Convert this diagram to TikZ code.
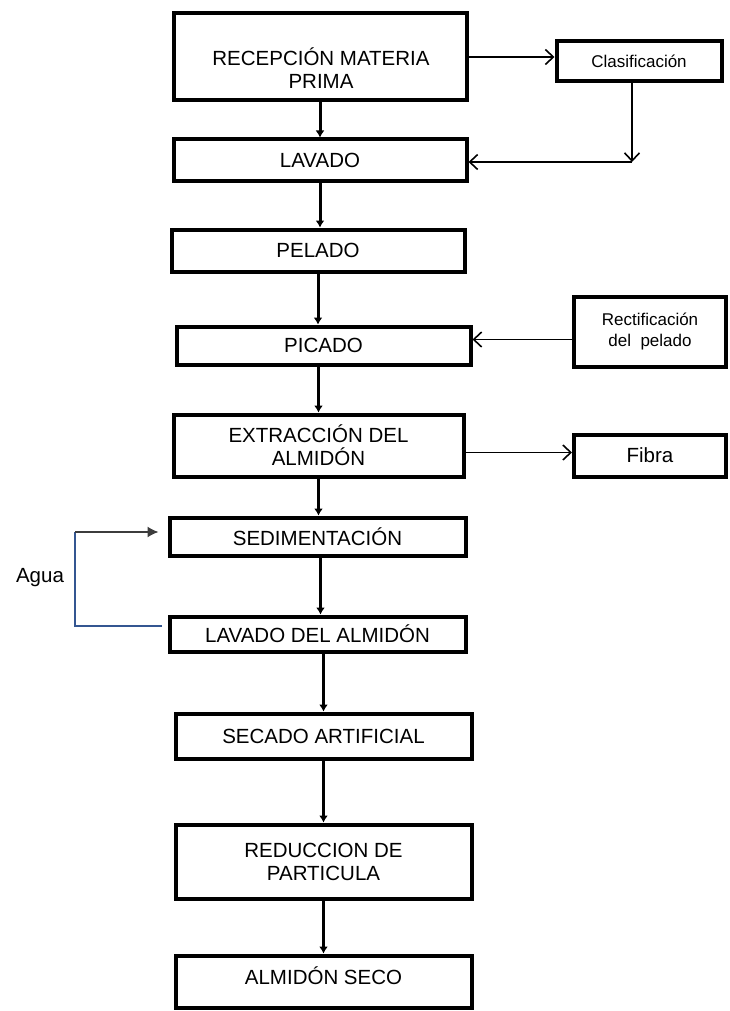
\documentclass[tikz,border=0pt]{standalone}
\usepackage{fontspec}
\setmainfont{Liberation Sans}
\usetikzlibrary{arrows.meta}
\definecolor{aguablue}{RGB}{52,86,145}
\definecolor{aguagray}{RGB}{60,60,60}
\begin{document}
\begin{tikzpicture}[x=1pt,y=-1pt,
  box/.style={draw=black, line width=4pt, fill=white, inner sep=0pt, align=center,
    font=\fontsize{20.5}{23}\selectfont},
  smallbox/.style={box, font=\fontsize{17}{21}\selectfont},
  txt/.style={inner sep=0pt, align=center, font=\fontsize{20.5}{23}\selectfont},
  flow/.style={line width=3pt, -{Latex[length=7pt,width=9pt]}},
  side/.style={line width=1.6pt, -{Straight Barb[length=8pt,width=15pt]}},
  agualine/.style={line width=1.5pt, draw=aguablue},
  aguaarrow/.style={line width=1.5pt, draw=aguagray, -{Latex[length=11pt,width=11pt]}, shorten >=9pt}
]
\useasboundingbox (0,0) rectangle (730,1011);

% main column
\node[box, minimum width=293pt, minimum height=87pt] (rec) at (320,57) {};
\node[txt] (rectxt) at (321,68) {RECEPCIÓN MATERIA\\PRIMA};
\node[box, minimum width=293pt, minimum height=42pt] (lav) at (320,160.5) {LAVADO};
\node[box, minimum width=293pt, minimum height=42pt] (pel) at (318,250.5) {PELADO};
\node[box, minimum width=294pt, minimum height=38pt] (pic) at (323.5,345.5) {PICADO};
\node[box, minimum width=290pt, minimum height=62pt] (ext) at (318.5,445.5) {EXTRACCIÓN DEL\\ALMIDÓN};
\node[box, minimum width=296pt, minimum height=38pt] (sed) at (317.5,536.5) {SEDIMENTACIÓN};
\node[box, minimum width=296pt, minimum height=35pt] (lda) at (317.5,634) {LAVADO DEL ALMIDÓN};
\node[box, minimum width=296pt, minimum height=45pt] (sec) at (323.5,736) {SECADO ARTIFICIAL};
\node[box, minimum width=296pt, minimum height=74pt] (red) at (323.5,861.5) {REDUCCION DE\\PARTICULA};
\node[box, minimum width=296pt, minimum height=52pt] (alm) at (323.5,981.5) {};
\node[txt] (almtxt) at (323.5,976) {ALMIDÓN SECO};

% side boxes
\node[smallbox, minimum width=165pt, minimum height=40pt] (clas) at (639,61.5) {Clasificación};
\node[smallbox, minimum width=152pt, minimum height=70pt] (rect) at (650,331.5) {Rectificación\\del~ pelado};
\node[box, minimum width=152pt, minimum height=42pt] (fib) at (650,455.5) {Fibra};

% main flow
\draw[flow] (rec.south) -- (rec.south |- lav.north);
\draw[flow] (lav.south) -- (lav.south |- pel.north);
\draw[flow] (pel.south) -- (pel.south |- pic.north);
\draw[flow] (ext.north |- pic.south) -- (ext.north);
\draw[flow] (ext.south) -- (ext.south |- sed.north);
\draw[flow] ([xshift=3pt]sed.south) -- ([xshift=3pt]sed.south |- lda.north);
\draw[flow] (sec.north |- lda.south) -- (sec.north);
\draw[flow] (sec.south) -- (sec.south |- red.north);
\draw[flow] (red.south) -- (red.south |- alm.north);

% side connectors
\draw[side] (rec.east) -- (rec.east -| clas.west);
\coordinate (c1) at (632,162);
\draw[side] (clas.south -| c1) -- (c1);
\draw[side] (c1) -- (c1 -| lav.east);
\draw[side] ([yshift=-8pt]rect.west) -- ([yshift=-8pt]rect.west -| pic.east);
\draw[side] ([yshift=3pt]fib.west -| ext.east) -- ([yshift=3pt]fib.west);

% agua loop
\coordinate (a1) at (75,532);
\coordinate (a2) at (75,626);
\coordinate (a0) at (162,626);
\draw[agualine] (a0) -- (a2) -- (a1);
\draw[aguaarrow] (a1) -- (a1 -| sed.west);
\node[txt] (agua) at (40,578) {Agua};
\end{tikzpicture}
\end{document}
